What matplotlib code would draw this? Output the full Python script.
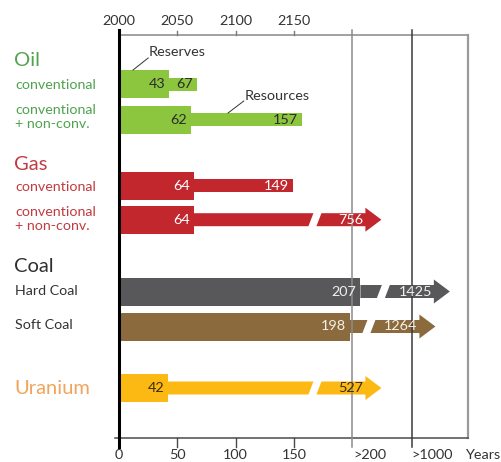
import matplotlib.pyplot as plt
from matplotlib.patches import Polygon

plt.rcParams['font.family'] = ['Lato', 'DejaVu Sans']

# data: years of supply at current consumption
rows = ['oil_conv', 'oil_all', 'gas_conv', 'gas_all', 'hard_coal', 'soft_coal', 'uranium']
reserves = [43, 62, 64, 64, 207, 198, 42]
resources = [67, 157, 149, 756, 1425, 1264, 527]

groups = ['Oil', 'Gas', 'Coal', 'Uranium']
sublabels = ['conventional', 'conventional\n+ non-conv.', 'conventional',
             'conventional\n+ non-conv.', 'Hard Coal', 'Soft Coal', '']

bottom_ticks = [0, 50, 100, 150]
top_ticks = ['2000', '2050', '2100', '2150']

# layout (vertical positions in pixel rows, y axis runs top->bottom)
row_y = [84, 119.5, 185.5, 219.7, 291.5, 326.5, 388]
group_y = [60, 164, 266, 389]
sub_y = [85, 117, 187, 219, 291, 325, None]
bar_col = ['#8cc63f', '#8cc63f', '#c1272d', '#c1272d', '#58585a', '#8b6a3e', '#fdb913']
txt_col = ['#2b2b2b', '#2b2b2b', 'white', 'white', '#f0f0f0', '#f5f0e6', '#3a2c05']
group_col = ['#4fa34f', '#c23b40', '#303030', '#f2a45c']
sub_col = ['#4fa34f', '#4fa34f', '#c23b40', '#c23b40', '#333333', '#333333', None]

X_MAX = 299
PX = X_MAX / 348.7       # data units per pixel
BIG = 28                 # reserve bar height
THIN = 13                # resource bar height
HEAD_W = 24
HEAD_L = 16 * PX
SLANT = 2.5 * PX
GAP = 4 * PX
FS = 10.4


def shown_end(v):
    # values above 200 years are drawn compressed on the broken part of the axis
    if v <= 200:
        return v
    if v < 1000:
        return 225
    return 251 + (v - 1000) / 13


fig = plt.figure(figsize=(5.01, 4.62), dpi=100)
ax = fig.add_axes([119 / 501, 1 - 438 / 462, 348.7 / 501, (438 - 34.5) / 462])
ax.set_xlim(0, X_MAX)
ax.set_ylim(438, 34.5)

for i in range(len(rows)):
    y, r, v = row_y[i], reserves[i], resources[i]
    c = bar_col[i]
    ax.barh(y, r, height=BIG, left=0, color=c, zorder=2)
    ax.text(r - 4 * PX, y, str(r), ha='right', va='center', fontsize=FS,
            color=txt_col[i], zorder=5)
    top, bot = y - THIN / 2, y + THIN / 2
    if v <= 200:
        ax.barh(y, v - r, height=THIN, left=r, color=c, zorder=2)
        ax.text(v - 4 * PX, y, str(v), ha='right', va='center', fontsize=FS,
                color=txt_col[i], zorder=5)
    else:
        tip = shown_end(v)
        brk = tip - 57
        hs = tip - HEAD_L
        seg1 = [(r, top), (brk - GAP + SLANT, top), (brk - GAP - SLANT, bot), (r, bot)]
        seg2 = [(brk + GAP + SLANT, top), (hs, top), (hs, y - HEAD_W / 2), (tip, y),
                (hs, y + HEAD_W / 2), (hs, bot), (brk + GAP - SLANT, bot)]
        ax.add_patch(Polygon(seg1, closed=True, color=c, lw=0, zorder=2))
        ax.add_patch(Polygon(seg2, closed=True, color=c, lw=0, zorder=2))
        ax.text(hs - 2 * PX, y, str(v), ha='right', va='center', fontsize=FS,
                color=txt_col[i], zorder=5)

# break lines for >200 and >1000
for xv, lc in [(200, '#8c8c8c'), (251, '#3a3a3a')]:
    ax.plot([xv, xv], [30, 446.5], color=lc, lw=1.1, zorder=4, clip_on=False)

# frame
for s in ['left', 'top', 'right', 'bottom']:
    ax.spines[s].set_visible(False)
ax.plot([0, X_MAX], [34.5, 34.5], color='#9a9a9a', lw=1.3, clip_on=False, zorder=1)
ax.plot([X_MAX, X_MAX], [34.5, 438], color='#9a9a9a', lw=1.6, clip_on=False, zorder=1)
ax.plot([-4 * PX, X_MAX], [438, 438], color='#4a4a4a', lw=1.1, clip_on=False, zorder=1)
ax.plot([0, 0], [30, 447], color='black', lw=2.2, clip_on=False, zorder=6)

ax.set_xticks([])
ax.set_yticks([])
for xv, lab in zip(bottom_ticks, top_ticks):
    ax.plot([xv, xv], [30.5, 34.5], color='#7a7a7a', lw=1, clip_on=False)
    ax.text(xv, 21, lab, ha='center', va='center', fontsize=FS, color='#333333')
for xv in bottom_ticks:
    ax.plot([xv, xv], [438, 446.5], color='#4a4a4a', lw=1, clip_on=False)
    ax.text(xv, 455, str(xv), ha='center', va='center', fontsize=FS, color='#333333')
ax.text(200 + 1.5 * PX, 455, '>200', ha='left', va='center', fontsize=FS, color='#333333')
ax.text(251, 455, '>1000', ha='left', va='center', fontsize=FS, color='#333333')
ax.text(X_MAX - 2.5 * PX, 455, 'Years', ha='left', va='center', fontsize=FS, color='#333333')

# row labels on the left
LX = -104 * PX
for g, gy, gc in zip(groups, group_y, group_col):
    ax.text(LX - PX, gy, g, ha='left', va='center', fontsize=14.5, color=gc)
for s, sy, sc in zip(sublabels, sub_y, sub_col):
    if s:
        ax.text(LX, sy, s, ha='left', va='center', fontsize=10.3, color=sc,
                linespacing=1.2)

# callouts
ax.plot([12, 25], [70, 58], color='#333333', lw=0.7, zorder=5)
ax.text(25.5, 52, 'Reserves', ha='left', va='center', fontsize=FS, color='#333333')
ax.plot([93.5, 107], [113, 101], color='#333333', lw=0.7, zorder=5)
ax.text(108, 96, 'Resources', ha='left', va='center', fontsize=FS, color='#333333')

fig.savefig('out.png', dpi=100)
